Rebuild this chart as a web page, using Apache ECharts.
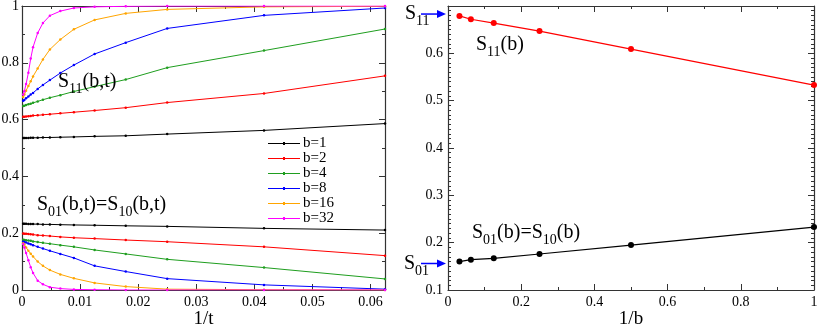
<!DOCTYPE html>
<html>
<head>
<meta charset="utf-8">
<script src="https://cdn.jsdelivr.net/npm/echarts@6/dist/echarts.min.js"></script>
<style>
html,body{margin:0;padding:0;background:#fff;}
#main{width:817px;height:324px;}
</style>
</head>
<body>
<div id="main"></div>
<script>
// ---- Left panel: x = 1/t ----
const invT = [0.0625, 0.04167, 0.025, 0.01786, 0.0125, 0.00893, 0.0066, 0.0048, 0.0036, 0.0027, 0.0019, 0.0015, 0.0011, 0.0007, 0.0004, 0.0002];
const bLabels = ['b=1', 'b=2', 'b=4', 'b=8', 'b=16', 'b=32'];
// S11(b,t)
const s11_b1  = [0.586, 0.562, 0.549, 0.543, 0.541, 0.539, 0.538, 0.537, 0.537, 0.536, 0.536, 0.536, 0.535, 0.535, 0.535, 0.535];
const s11_b2  = [0.754, 0.692, 0.660, 0.642, 0.632, 0.626, 0.622, 0.619, 0.617, 0.615, 0.614, 0.613, 0.612, 0.611, 0.610, 0.610];
const s11_b4  = [0.919, 0.843, 0.783, 0.741, 0.716, 0.699, 0.686, 0.677, 0.670, 0.664, 0.659, 0.656, 0.654, 0.651, 0.649, 0.648];
const s11_b8  = [0.993, 0.967, 0.921, 0.871, 0.831, 0.792, 0.764, 0.739, 0.722, 0.708, 0.694, 0.688, 0.681, 0.675, 0.669, 0.666];
const s11_b16 = [0.999, 0.997, 0.988, 0.974, 0.951, 0.918, 0.882, 0.847, 0.812, 0.780, 0.752, 0.735, 0.718, 0.702, 0.688, 0.680];
const s11_b32 = [1.000, 1.000, 1.000, 0.999, 0.997, 0.993, 0.982, 0.966, 0.940, 0.905, 0.855, 0.815, 0.765, 0.725, 0.700, 0.688];
// S01(b,t) = S10(b,t)
const s01_b1  = [0.211, 0.217, 0.224, 0.226, 0.228, 0.229, 0.230, 0.231, 0.231, 0.232, 0.232, 0.232, 0.232, 0.233, 0.233, 0.233];
const s01_b2  = [0.121, 0.152, 0.170, 0.176, 0.181, 0.184, 0.187, 0.190, 0.192, 0.193, 0.195, 0.196, 0.197, 0.198, 0.198, 0.199];
const s01_b4  = [0.039, 0.079, 0.108, 0.127, 0.141, 0.152, 0.158, 0.163, 0.166, 0.169, 0.171, 0.173, 0.174, 0.175, 0.176, 0.177];
const s01_b8  = [0.003, 0.018, 0.040, 0.065, 0.085, 0.113, 0.127, 0.138, 0.146, 0.152, 0.158, 0.161, 0.164, 0.167, 0.169, 0.170];
const s01_b16 = [0.000, 0.001, 0.003, 0.012, 0.025, 0.041, 0.055, 0.070, 0.085, 0.100, 0.118, 0.128, 0.138, 0.150, 0.160, 0.165];
const s01_b32 = [0.000, 0.000, 0.000, 0.000, 0.001, 0.002, 0.005, 0.010, 0.020, 0.033, 0.060, 0.080, 0.105, 0.130, 0.150, 0.162];

// ---- Right panel: x = 1/b ----
const invB = [0.03125, 0.0625, 0.125, 0.25, 0.5, 1];
const s11_b = [0.679, 0.672, 0.664, 0.647, 0.609, 0.533];
const s01_b = [0.160, 0.164, 0.167, 0.176, 0.195, 0.233];
const s11_limit = 0.683;
const s01_limit = 0.156;

const leftXTicks = ['0', '0.01', '0.02', '0.03', '0.04', '0.05', '0.06'];

const colors = ['#000000', '#ff0000', '#1f9e1f', '#0000ff', '#ffa500', '#ff00ff'];
const s11Sets = [s11_b1, s11_b2, s11_b4, s11_b8, s11_b16, s11_b32];
const s01Sets = [s01_b1, s01_b2, s01_b4, s01_b8, s01_b16, s01_b32];

const FONT = '"Liberation Serif", "DejaVu Serif", serif';
const AX = '#333';
const TICKFS = 14;

function pairs(xs, ys) { return xs.map((x, i) => [x, ys[i]]); }

function axisBase(extra) {
  return Object.assign({
    type: 'value',
    axisLine: { show: true, onZero: false, lineStyle: { color: AX, width: 1.2 } },
    axisTick: { show: true, inside: true, length: 6, lineStyle: { color: AX, width: 1 } },
    minorTick: { show: true, length: 3, lineStyle: { color: AX, width: 1 } },
    splitLine: { show: false },
    axisLabel: { show: true, color: '#000', fontFamily: FONT, fontSize: TICKFS, margin: 5 }
  }, extra);
}
function hiddenLabels(a) { a.axisLabel = { show: false }; return a; }

const xAxes = [
  axisBase({ gridIndex: 0, position: 'bottom', min: 0, max: 0.0625, interval: 0.01,
    minorTick: { show: true, splitNumber: 2, length: 3, lineStyle: { color: AX } },
    axisLabel: { color: '#000', fontFamily: FONT, fontSize: TICKFS, margin: 5, showMaxLabel: false,
      formatter: v => { const i = Math.round(v / 0.01); return (Math.abs(v - i * 0.01) < 1e-9 && i < leftXTicks.length) ? leftXTicks[i] : ''; } },
    name: '1/t', nameLocation: 'middle', nameGap: 20, nameMoveOverlap: false,
    nameTextStyle: { color: '#000', fontFamily: FONT, fontSize: 19 } }),
  hiddenLabels(axisBase({ gridIndex: 0, position: 'top', min: 0, max: 0.0625, interval: 0.01,
    minorTick: { show: true, splitNumber: 2, length: 3, lineStyle: { color: AX } } })),
  axisBase({ gridIndex: 1, position: 'bottom', min: 0, max: 1, interval: 0.2,
    minorTick: { show: true, splitNumber: 2, length: 3, lineStyle: { color: AX } },
    axisLabel: { color: '#000', fontFamily: FONT, fontSize: TICKFS, margin: 5,
      formatter: v => (v === 0 || v === 1) ? String(v) : v.toFixed(1) },
    name: '1/b', nameLocation: 'middle', nameGap: 20, nameMoveOverlap: false,
    nameTextStyle: { color: '#000', fontFamily: FONT, fontSize: 19 } }),
  hiddenLabels(axisBase({ gridIndex: 1, position: 'top', min: 0, max: 1, interval: 0.2,
    minorTick: { show: true, splitNumber: 2, length: 3, lineStyle: { color: AX } } }))
];
const yAxes = [
  axisBase({ gridIndex: 0, position: 'left', min: 0, max: 1, interval: 0.2,
    minorTick: { show: true, splitNumber: 2, length: 3, lineStyle: { color: AX } },
    axisLabel: { color: '#000', fontFamily: FONT, fontSize: TICKFS, margin: 3,
      formatter: v => (v === 0 || v === 1) ? String(v) : v.toFixed(1) } }),
  hiddenLabels(axisBase({ gridIndex: 0, position: 'right', min: 0, max: 1, interval: 0.2,
    minorTick: { show: true, splitNumber: 2, length: 3, lineStyle: { color: AX } } })),
  axisBase({ gridIndex: 1, position: 'left', min: 0.1, max: 0.7, interval: 0.1,
    minorTick: { show: true, splitNumber: 10, length: 3, lineStyle: { color: AX } },
    axisLabel: { color: '#000', fontFamily: FONT, fontSize: TICKFS, margin: 5, showMaxLabel: false,
      formatter: v => v.toFixed(1) } }),
  hiddenLabels(axisBase({ gridIndex: 1, position: 'right', min: 0.1, max: 0.7, interval: 0.1,
    minorTick: { show: true, splitNumber: 10, length: 3, lineStyle: { color: AX } } }))
];

const series = [];
s11Sets.forEach((ys, k) => {
  series.push({ name: bLabels[k], type: 'line', xAxisIndex: 0, yAxisIndex: 0,
    data: pairs(invT, ys), symbol: 'circle', symbolSize: 2.5, showAllSymbol: true,
    lineStyle: { width: 1, color: colors[k] }, itemStyle: { color: colors[k] },
    animation: false, z: 3 });
});
s01Sets.forEach((ys, k) => {
  series.push({ name: bLabels[k], type: 'line', xAxisIndex: 0, yAxisIndex: 0,
    data: pairs(invT, ys), symbol: 'circle', symbolSize: 2.5, showAllSymbol: true,
    lineStyle: { width: 1, color: colors[k] }, itemStyle: { color: colors[k] },
    animation: false, z: 3 });
});
series.push({ name: 'S11(b)', type: 'line', xAxisIndex: 2, yAxisIndex: 2,
  data: pairs(invB, s11_b), symbol: 'circle', symbolSize: 6,
  lineStyle: { width: 1.2, color: '#ff0000' }, itemStyle: { color: '#ff0000' }, animation: false, clip: false });
series.push({ name: 'S01(b)', type: 'line', xAxisIndex: 2, yAxisIndex: 2,
  data: pairs(invB, s01_b), symbol: 'circle', symbolSize: 6,
  lineStyle: { width: 1.2, color: '#000000' }, itemStyle: { color: '#000000' }, animation: false, clip: false });

const rich = {
  n: { fontFamily: FONT, fontSize: 20, color: '#000' },
  s: { fontFamily: FONT, fontSize: 14, color: '#000', padding: [14, 0, 0, 0] }
};
function label(text, left, top) {
  return { type: 'text', left: left, top: top, z: 10,
    style: { text: text, rich: rich, fill: '#000' } };
}

const chart = echarts.init(document.getElementById('main'), null, { renderer: 'canvas' });
chart.setOption({
  backgroundColor: '#fff',
  animation: false,
  grid: [
    { left: 22, top: 6, width: 363, height: 284, outerBoundsMode: 'none', containLabel: false },
    { left: 448, top: 6, width: 366, height: 284, outerBoundsMode: 'none', containLabel: false }
  ],
  xAxis: xAxes,
  yAxis: yAxes,
  legend: {
    data: bLabels, orient: 'vertical', left: 268, top: 136,
    icon: 'path://M0,2.5 H32 V3.5 H0 Z M15,1.6 H17 V4.4 H15 Z',
    itemWidth: 32, itemHeight: 3, itemGap: 0,
    textStyle: { color: '#000', fontFamily: FONT, fontSize: 15, lineHeight: 14.7, padding: [0, 0, 0, -2] },
    backgroundColor: 'rgba(0,0,0,0)', padding: 0
  },
  series: series
});

function arrow(yVal) {
  const y = chart.convertToPixel({ yAxisIndex: 2 }, yVal);
  const x0 = 421, x1 = 446;
  return [
    { type: 'line', z: 10, shape: { x1: x0, y1: y, x2: x1 - 7, y2: y }, style: { stroke: '#0000ff', lineWidth: 1.5 } },
    { type: 'polygon', z: 10, shape: { points: [[x1, y], [x1 - 9, y - 4], [x1 - 9, y + 4]] }, style: { fill: '#0000ff' } }
  ];
}

chart.setOption({
  graphic: [
    label('{n|S}{s|11}{n|(b,t)}', 58, 72),
    label('{n|S}{s|01}{n|(b,t)=S}{s|10}{n|(b,t)}', 37, 195),
    label('{n|S}{s|11}{n|(b)}', 476, 35),
    label('{n|S}{s|01}{n|(b)=S}{s|10}{n|(b)}', 472, 223),
    label('{n|S}{s|11}', 405, 4),
    label('{n|S}{s|01}', 404, 254)
  ].concat(arrow(s11_limit), arrow(s01_limit))
});
</script>
</body>
</html>
